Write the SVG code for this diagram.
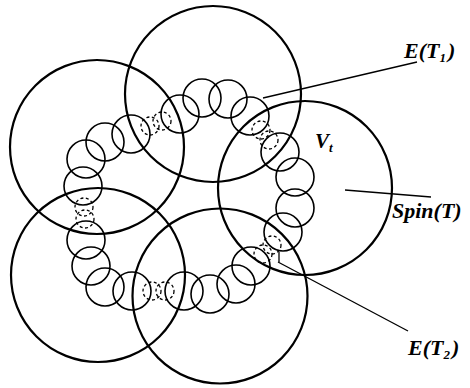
<svg xmlns="http://www.w3.org/2000/svg" width="470" height="388" viewBox="0 0 470 388">
<style>
.big{fill:none;stroke:#000;stroke-width:2.2}
.sm{fill:none;stroke:#000;stroke-width:1.6}
.ds{fill:none;stroke:#000;stroke-width:1.3;stroke-dasharray:3 2.5}
.ln{fill:none;stroke:#000;stroke-width:1.3}
.lb{font-family:"Liberation Serif","Times New Roman",serif;font-weight:bold;font-style:italic;fill:#000}
</style>
<rect width="470" height="388" fill="#fff"/>
<g id="spin-regions">
<circle id="big-top" class="big" cx="213" cy="94" r="88"/>
<circle id="big-left" class="big" cx="97" cy="147" r="87"/>
<circle id="big-lowerleft" class="big" cx="98" cy="275" r="87"/>
<circle id="big-bottom" class="big" cx="220" cy="296" r="87.5"/>
<circle id="big-right" class="big" cx="305" cy="188" r="87"/>
</g>
<g id="small-circles">
<circle class="sm" cx="83" cy="186" r="19"/>
<circle class="sm" cx="86" cy="159" r="19"/>
<circle class="sm" cx="105" cy="142" r="19"/>
<circle class="sm" cx="131" cy="134" r="19"/>
<circle class="sm" cx="180" cy="114" r="19"/>
<circle class="sm" cx="202" cy="98" r="19"/>
<circle class="sm" cx="228" cy="99" r="19"/>
<circle class="sm" cx="250" cy="116" r="19"/>
<circle class="sm" cx="280" cy="152" r="19"/>
<circle class="sm" cx="295" cy="177" r="19"/>
<circle class="sm" cx="295" cy="208" r="19"/>
<circle class="sm" cx="283" cy="232" r="19"/>
<circle class="sm" cx="251" cy="266" r="19"/>
<circle class="sm" cx="236" cy="284" r="19"/>
<circle class="sm" cx="210" cy="294" r="19"/>
<circle class="sm" cx="184" cy="291" r="19"/>
<circle class="sm" cx="132" cy="291" r="19"/>
<circle class="sm" cx="105" cy="287" r="19"/>
<circle class="sm" cx="91" cy="266" r="19"/>
<circle class="sm" cx="86" cy="240" r="19"/>
</g>
<g id="edges-dashed">
<circle class="ds" cx="150" cy="126" r="9"/>
<circle class="ds" cx="162" cy="121" r="9"/>
<circle class="ds" cx="261" cy="130" r="9"/>
<circle class="ds" cx="269" cy="140" r="9"/>
<circle class="ds" cx="272" cy="245" r="9"/>
<circle class="ds" cx="263" cy="254" r="9"/>
<circle class="ds" cx="152" cy="291" r="9"/>
<circle class="ds" cx="165" cy="291" r="9"/>
<circle class="ds" cx="84" cy="207" r="9"/>
<circle class="ds" cx="85" cy="219" r="9"/>
</g>
<g id="connectors">
<line class="ln" x1="263" y1="98" x2="417" y2="62"/>
<line class="ln" x1="345" y1="190" x2="431" y2="197"/>
<line class="ln" x1="278" y1="262" x2="408" y2="331"/>
<line class="ln" x1="279" y1="252" x2="279" y2="262"/>
</g>
<g id="labels">
<text class="lb" x="404" y="58" font-size="22">E(T<tspan font-size="13" dy="4">1</tspan><tspan dx="2" dy="-4">)</tspan></text>
<text class="lb" x="315" y="148" font-size="21">V<tspan font-size="13" dy="4">t</tspan></text>
<text class="lb" x="392" y="218" font-size="22">Spin(T)</text>
<text class="lb" x="408" y="355" font-size="22">E(T<tspan font-size="13" dy="4">2</tspan><tspan dx="2" dy="-4">)</tspan></text>
</g>
</svg>
